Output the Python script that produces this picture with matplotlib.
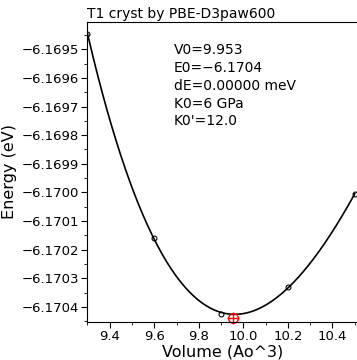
import numpy as np
import matplotlib
matplotlib.use("Agg")
import matplotlib.pyplot as plt
from matplotlib.ticker import MultipleLocator, FuncFormatter

# calculated points (volume in Ao^3, energy in eV)
volume = [9.3, 9.6, 9.9, 10.2, 10.5]
energy = [-6.169446, -6.170161, -6.170425, -6.170330, -6.170006]

# fitted minimum
v0 = 9.953
e0 = -6.17044

title = "T1 cryst by PBE-D3paw600"
info = ["V0=9.953", "E0=\u22126.1704", "dE=0.00000 meV", "K0=6 GPa", "K0'=12.0"]

# Birch-Murnaghan style fit: cubic in V^(-2/3)
x = np.array(volume) ** (-2.0 / 3.0)
coef = np.polyfit(x, energy, 3)
vfit = np.linspace(9.3, 10.5, 300)
efit = np.polyval(coef, vfit ** (-2.0 / 3.0))

fig = plt.figure(figsize=(3.57, 3.6), dpi=100)
ax = fig.add_axes([0.245, 0.106, 0.755, 0.833])

ax.plot(vfit, efit, color="black", lw=1.2)
ax.plot(volume, energy, "o", mfc="none", mec="black", ms=3.5, mew=0.8)
ax.plot([v0], [e0], "o", mfc="none", mec="red", ms=7, mew=1.0, clip_on=False)
ax.plot([v0], [e0], "+", color="red", ms=8, mew=1.0, clip_on=False)

ax.set_xlim(9.3, 10.51)
ax.set_ylim(-6.1704524, -6.1694045)

ax.xaxis.set_major_locator(MultipleLocator(0.2))
ax.xaxis.set_minor_locator(MultipleLocator(0.1))
ax.yaxis.set_major_locator(MultipleLocator(0.0001))
ax.yaxis.set_minor_locator(MultipleLocator(0.00005))
ax.xaxis.set_major_formatter(FuncFormatter(lambda v, p: "%.1f" % v))
ax.yaxis.set_major_formatter(FuncFormatter(lambda v, p: ("%.4f" % v).replace("-", "\u2212")))
ax.tick_params(which="major", direction="out", length=4, labelsize=9.5, pad=2)
ax.tick_params(which="minor", direction="out", length=2)
ax.tick_params(top=False, right=False)
ax.spines["right"].set_visible(False)

ax.set_xlabel("Volume (Ao^3)", fontsize=11.5, labelpad=1)
ax.set_ylabel("Energy (eV)", fontsize=11.5, labelpad=3)
ax.set_title(title, fontsize=10, loc="left", pad=3)

ax.text(0.32, 0.93, "\n".join(info), transform=ax.transAxes, fontsize=10,
        va="top", ha="left", linespacing=1.35)

fig.savefig("out.png", dpi=100)
